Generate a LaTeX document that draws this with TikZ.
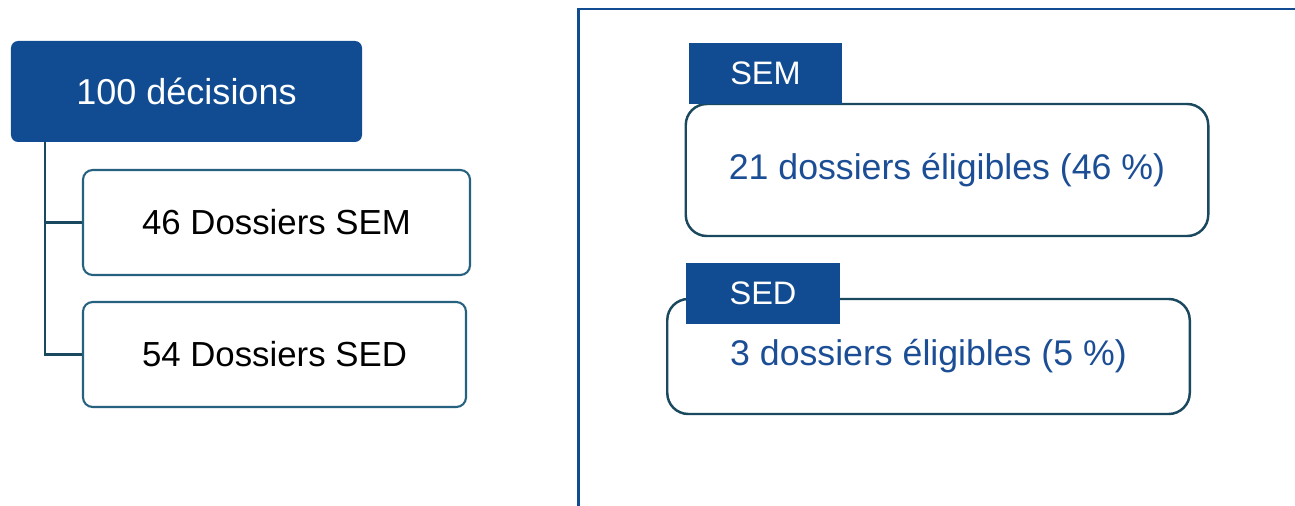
\documentclass[tikz,border=0pt]{standalone}
\usepackage{fontspec}
\setmainfont{Liberation Sans}
\usepackage{tikz}
\usetikzlibrary{positioning}

\definecolor{deepblue}{RGB}{17,76,147}
\definecolor{tealline}{RGB}{38,98,128}
\definecolor{darkteal}{RGB}{26,72,94}
\definecolor{textblue}{RGB}{28,78,150}

\begin{document}
\begin{tikzpicture}[
  x=0.2mm, y=-0.2mm,
  rootbox/.style={draw=none, fill=deepblue, rounded corners=4pt, text=white,
    minimum width=7.02cm, minimum height=2.02cm, font=\fontsize{20.5}{24}\selectfont},
  leafbox/.style={draw=tealline, line width=1.2pt, fill=white, rounded corners=5.5pt,
    minimum height=2.1cm, font=\fontsize{19.8}{24}\selectfont},
  treeline/.style={draw=darkteal, line width=1.4pt},
  panelline/.style={draw=deepblue, line width=1.7pt},
  resbox/.style={draw=darkteal, line width=1.4pt, fill=white, rounded corners=12pt,
    minimum width=10.45cm, text=textblue, font=\fontsize{20.3}{24}\selectfont},
  tagbox/.style={fill=deepblue, text=white, minimum width=3.07cm, minimum height=1.22cm,
    font=\fontsize{18.5}{22}\selectfont}
]
\useasboundingbox (0,0) rectangle (1295,506);

% left tree
\node[rootbox] (root) at (186.5,91.5) {100 décisions};
\node[leafbox, minimum width=7.74cm] (semleaf) at (276.5,222.5) {46 Dossiers SEM};
\node[leafbox, minimum width=7.66cm] (sedleaf) at (274.5,354.5) {54 Dossiers SED};
\coordinate (trunk) at (45,142);
\draw[treeline] (trunk) |- (semleaf.west);
\draw[treeline] (trunk) |- (sedleaf.west);

% right panel
\coordinate (panelbot) at (578,506);
\coordinate (panelcorner) at (578,9);
\coordinate (panelend) at (1295,9);
\draw[panelline] (panelbot) -- (panelcorner) -- (panelend);

\node[resbox, minimum height=2.64cm] (semres) at (947,170) {21 dossiers éligibles (46~\%)};
\node[tagbox] (semtag) at (765.5,73.5) {SEM};
\node[resbox, minimum height=2.3cm] (sedres) at (928.5,356.5) {3 dossiers éligibles (5~\%)};
\node[tagbox] (sedtag) at (763,293.5) {SED};

\end{tikzpicture}
\end{document}
